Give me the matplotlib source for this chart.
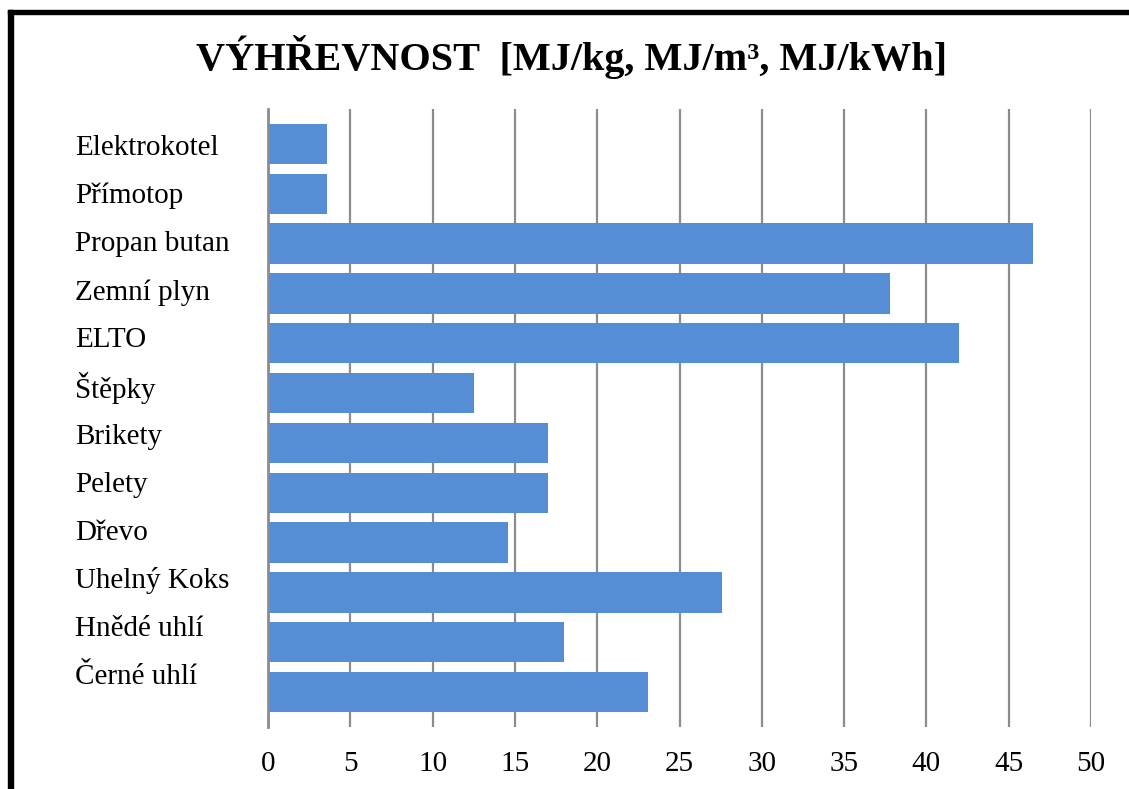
import matplotlib
matplotlib.use("Agg")
import matplotlib.pyplot as plt
from matplotlib.patches import Rectangle

# Heating values by fuel / energy source (top to bottom)
categories = [
    "Elektrokotel", "Přímotop", "Propan butan", "Zemní plyn", "ELTO",
    "Štěpky", "Brikety", "Pelety", "Dřevo", "Uhelný Koks",
    "Hnědé uhlí", "Černé uhlí",
]
values = [3.6, 3.6, 46.5, 37.8, 42.0, 12.5, 17.0, 17.0, 14.6, 27.6, 18.0, 23.1]
xticks = [0, 5, 10, 15, 20, 25, 30, 35, 40, 45, 50]
title = "VÝHŘEVNOST  [MJ/kg, MJ/m³, MJ/kWh]"

W, H = 1129, 789
DPI = 100
plt.rcParams["font.family"] = ["Liberation Serif", "DejaVu Serif"]

fig = plt.figure(figsize=(W / DPI, H / DPI), dpi=DPI)
fig.patch.set_facecolor("white")

# plot area in pixel coordinates
left_px, right_px, top_px, bottom_px = 268, 1091, 109, 727
rect = [left_px / W, 1 - bottom_px / H,
        (right_px - left_px) / W, (bottom_px - top_px) / H]

# category labels sit in their own column with a slightly tighter spacing
lab = fig.add_axes(rect)
lab.set_ylim(12.102, -0.749)
lab.set_xlim(0, 1)
pos = list(range(len(categories)))
lab.set_yticks(pos)
lab.set_yticklabels(categories, fontsize=21, ha="left")
lab.tick_params(axis="y", length=0, pad=(left_px - 75) * 0.72)
lab.set_xticks([])
for s in lab.spines.values():
    s.set_visible(False)
lab.patch.set_visible(False)

ax = fig.add_axes(rect)
ax.patch.set_visible(False)
ax.barh(pos, values, height=0.81, color="#558ed5", zorder=3)

ax.set_xlim(0, 50)
ax.set_ylim(len(categories) - 1 + 0.703, -0.703)
ax.set_yticks([])

ax.set_xticks(xticks)
ax.set_xticklabels([str(t) for t in xticks], fontsize=21)
ax.tick_params(axis="x", length=0, pad=17)
ax.grid(axis="x", color="#8c8c8c", linewidth=1.6, zorder=0)

for s in ["top", "right", "bottom"]:
    ax.spines[s].set_visible(False)
ax.spines["left"].set_color("#8c8c8c")
ax.spines["left"].set_linewidth(2.0)
ax.spines["left"].set_zorder(4)

fig.text(572 / W, 1 - 57 / H, title, ha="center", va="center",
         fontsize=29, fontweight="bold")

# outer frame (left and top edges)
fig.patches.append(Rectangle((8 / W, 0), 5 / W, 1 - 10 / H,
                             transform=fig.transFigure, color="black"))
fig.patches.append(Rectangle((8 / W, 1 - 13.5 / H), 1 - 8 / W, 3.5 / H,
                             transform=fig.transFigure, color="black"))

fig.savefig("out.png", dpi=DPI)
